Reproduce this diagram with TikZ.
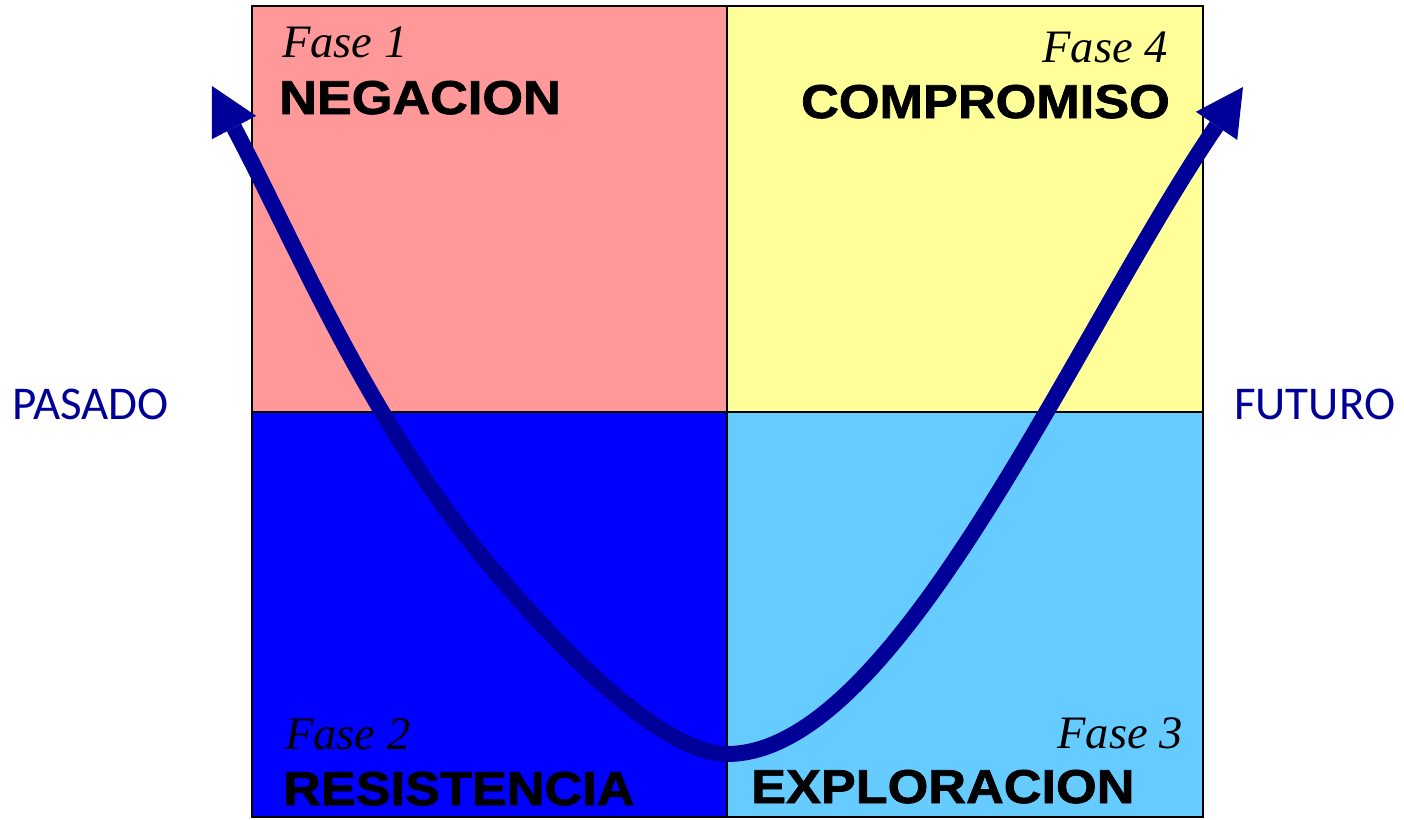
\documentclass[tikz,border=0pt]{standalone}
\usepackage{fontspec}
\usepackage{graphicx}
\setmainfont{Liberation Serif}
\newfontfamily\boldsans[FakeBold=1.5]{Liberation Sans Bold}
\newfontfamily\calib{Carlito}
\usetikzlibrary{arrows.meta}
\definecolor{qpink}{HTML}{FF9999}
\definecolor{qyellow}{HTML}{FFFF99}
\definecolor{qblue}{HTML}{0000FF}
\definecolor{qlight}{HTML}{66CCFF}
\definecolor{qnavy}{HTML}{000099}
\begin{document}
\begin{tikzpicture}[x=1pt,y=-1pt,
  fase/.style={inner sep=0pt,font=\fontsize{46.5}{50}\selectfont\itshape},
  phase/.style={inner sep=0pt,font=\fontsize{47.5}{50}\boldsans},
  side/.style={inner sep=0pt,text=qnavy,font=\fontsize{47}{50}\calib},
  grid/.style={draw=black,line width=2pt},
  trend/.style={draw=qnavy,line width=16pt,
    arrows={Triangle[length=47pt,width=50pt,line width=0pt]-Triangle[length=47pt,width=50pt,line width=0pt]}}]
\useasboundingbox (0,0) rectangle (1404,819);
% quadrants
\fill[qpink] (252,6) rectangle (727,412);
\fill[qyellow] (727,6) rectangle (1203,412);
\fill[qblue] (252,412) rectangle (727,817);
\fill[qlight] (727,412) rectangle (1203,817);
\draw[grid] (252,6) rectangle (1203,817);
\draw[grid] (727,6) -- (727,817);
\draw[grid] (252,412) -- (1203,412);
% labels
\node[fase,anchor=base west] (f1) at (282,57) {Fase 1};
\node[phase,anchor=base west] (p1) at (279,114) {\scalebox{1.1}[1]{NEGACION}};
\node[fase,anchor=base east] (f4) at (1168,62) {Fase 4};
\node[phase,anchor=base east] (p4) at (1170,118) {\scalebox{1.1}[1]{COMPROMISO}};
\node[fase,anchor=base west] (f2) at (285,749) {Fase 2};
\node[phase,anchor=base west] (p2) at (283,805) {\scalebox{1.1}[1]{RESISTENCIA}};
\node[fase,anchor=base east] (f3) at (1183,748) {Fase 3};
\node[phase,anchor=base west] (p3) at (751,803) {\scalebox{1.1}[1]{EXPLORACION}};
\node[side,anchor=base west] (past) at (12,419) {PASADO};
\node[side,anchor=base west] (fut) at (1234,419) {FUTURO};
% curve
\coordinate (tipL) at (212,86);
\coordinate (midL) at (477,550);
\coordinate (bottom) at (727,754);
\coordinate (tipR) at (1243,87);
\draw[trend] (tipL) .. controls (296,245) and (364,410) .. (midL)
  .. controls (540,628) and (657,754) .. (bottom)
  .. controls (897,754) and (1074,335) .. (tipR);
\end{tikzpicture}
\end{document}
